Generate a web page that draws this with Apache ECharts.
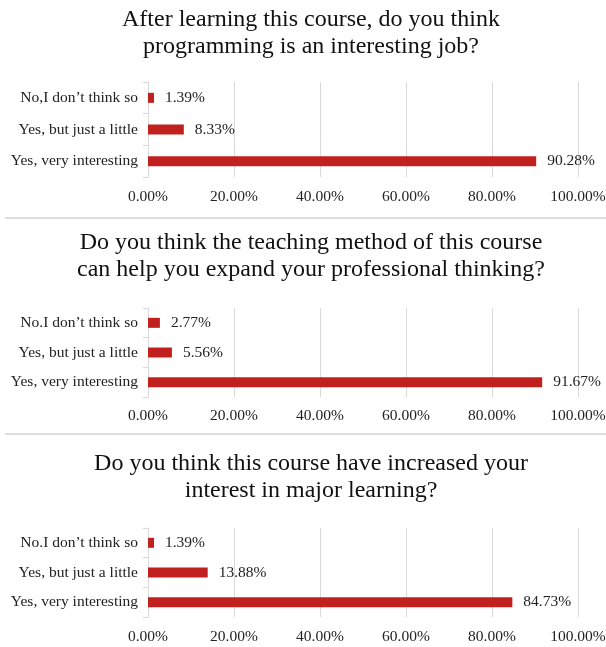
<!DOCTYPE html>
<html><head><meta charset="utf-8">
<script src="https://cdn.jsdelivr.net/npm/echarts@6/dist/echarts.min.js"></script>
<style>html,body{margin:0;padding:0;background:#fff}#c{width:606px;height:647px}</style>
</head><body><div id="c"></div>
<script>
// Categories bottom -> top
const cats1 = ['Yes, very interesting', 'Yes, but just a little', 'No,I don’t think so'];
const cats2 = ['Yes, very interesting', 'Yes, but just a little', 'No.I don’t think so'];
const cats3 = ['Yes, very interesting', 'Yes, but just a little', 'No.I don’t think so'];
const vals1 = [90.28, 8.33, 1.39];
const vals2 = [91.67, 5.56, 2.77];
const vals3 = [84.73, 13.88, 1.39];
const titles = [
  'After learning this course, do you think\nprogramming is an interesting job?',
  'Do you think the teaching method of this course\ncan help you expand your professional thinking?',
  'Do you think this course have increased your\ninterest in major learning?'
];
const xTicks = [0, 20, 40, 60, 80, 100];

const FONT = '"Liberation Serif", "Times New Roman", serif';
const chart = echarts.init(document.getElementById('c'));
const grids = [
  {left: 148, right: 28, top: 82, height: 95, outerBoundsMode: 'none', containLabel: false},
  {left: 148, right: 28, top: 308, height: 89, outerBoundsMode: 'none', containLabel: false},
  {left: 148, right: 28, top: 528, height: 89, outerBoundsMode: 'none', containLabel: false}
];
const titleTops = [1, 224, 445];
const cats = [cats1, cats2, cats3];
const vals = [vals1, vals2, vals3];
const axisMargins = [12, 11, 12];

const option = {
  backgroundColor: '#fff',
  animation: false,
  title: titles.map((t, i) => ({
    text: t, left: 306, textAlign: 'center', top: titleTops[i],
    textStyle: {fontFamily: FONT, fontSize: 24, fontWeight: 'normal', color: '#111', lineHeight: 27}
  })),
  grid: grids,
  xAxis: grids.map((g, i) => ({
    type: 'value', gridIndex: i, min: xTicks[0], max: xTicks[xTicks.length - 1], interval: 20,
    axisLine: {show: false}, axisTick: {show: false},
    splitLine: {show: true, lineStyle: {color: '#d9d9d9', width: 1}},
    axisLabel: {fontFamily: FONT, fontSize: 15.5, color: '#222', margin: axisMargins[i],
      formatter: v => v.toFixed(2) + '%'}
  })),
  yAxis: grids.map((g, i) => ({
    type: 'category', gridIndex: i, data: cats[i],
    axisLine: {show: true, lineStyle: {color: '#d9d9d9'}},
    axisTick: {show: true, length: 5, lineStyle: {color: '#d9d9d9'}},
    axisLabel: {fontFamily: FONT, fontSize: 15.5, color: '#222', margin: 10}
  })),
  series: vals.map((v, i) => ({
    type: 'bar', xAxisIndex: i, yAxisIndex: i, data: v, barWidth: 10,
    itemStyle: {color: '#c0211f'},
    label: {show: true, position: 'right', distance: 11, fontFamily: FONT, fontSize: 15.5, color: '#222',
      formatter: p => p.value.toFixed(2) + '%'}
  })),
  graphic: [
    {type: 'rect', shape: {x: 5, y: 217, width: 601, height: 2}, style: {fill: '#dcdcdc'}},
    {type: 'rect', shape: {x: 5, y: 433, width: 601, height: 2}, style: {fill: '#dcdcdc'}}
  ]
};
chart.setOption(option);
</script></body></html>
